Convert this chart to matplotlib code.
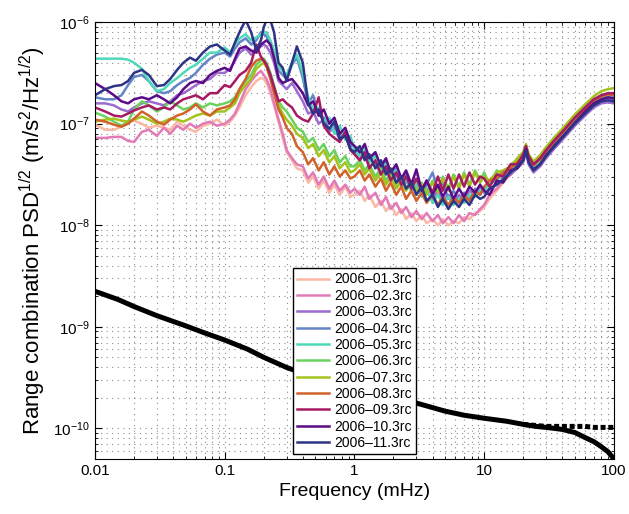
import numpy as np
import matplotlib.pyplot as plt
from matplotlib.ticker import FixedLocator, FixedFormatter, NullFormatter

plt.rcParams['font.family'] = ['Liberation Sans', 'DejaVu Sans']
plt.rcParams['mathtext.fontset'] = 'custom'
plt.rcParams['mathtext.rm'] = 'Liberation Sans'
plt.rcParams['mathtext.it'] = 'Liberation Sans:italic'

# frequency grid of the spectra (mHz)
freq = [0.01, 0.012, 0.014, 0.016, 0.018, 0.02, 0.023, 0.026, 0.03, 0.034, 0.038, 0.043,
        0.048, 0.054, 0.06, 0.068, 0.077, 0.087,
        0.1, 0.11, 0.12, 0.13, 0.145, 0.16, 0.175, 0.19, 0.2, 0.21, 0.225, 0.24, 0.26,
        0.28, 0.3, 0.33, 0.36, 0.4, 0.44, 0.48, 0.53, 0.58, 0.64, 0.7, 0.77, 0.85, 0.93,
        1.0, 1.1, 1.2, 1.3, 1.45, 1.6, 1.75, 1.9, 2.1, 2.3, 2.5, 2.75, 3.0, 3.3, 3.6, 4.0,
        4.4, 4.8, 5.3, 5.8, 6.4, 7.0, 7.7, 8.5, 9.3,
        10, 11, 12.5, 14, 16, 18, 20, 21, 22, 24, 27, 30, 35, 40, 50, 60, 70, 80, 90, 100]

# log10 of the PSD^1/2 (m/s^2/Hz^1/2), one list per release
psd_01 = [-7.01, -7.06, -7.06, -7.03, -6.98, -6.97, -7.00, -7.04, -7.02, -7.04, -7.06, -6.98,
          -7.02, -7.06, -7.08, -7.02, -7.00, -6.96,
          -7.02, -6.98, -6.92, -6.84, -6.72, -6.64, -6.58, -6.55, -6.56, -6.60, -6.70, -6.82, -6.98,
          -7.14, -7.28, -7.36, -7.44, -7.46, -7.58, -7.52, -7.64, -7.56, -7.68, -7.60, -7.70, -7.62, -7.72,
          -7.70, -7.66, -7.76, -7.70, -7.82, -7.76, -7.86, -7.80, -7.90, -7.84, -7.94, -7.88, -7.96, -7.90, -7.98, -7.94,
          -8.00, -7.94, -8.00, -7.96, -7.98, -7.92, -7.94, -7.88, -7.86,
          -7.82, -7.74, -7.66, -7.58, -7.50, -7.44, -7.37, -7.24, -7.37, -7.45, -7.39, -7.31, -7.21, -7.13, -6.99, -6.89, -6.81, -6.78, -6.77, -6.79]
psd_02 = [-7.14, -7.14, -7.13, -7.13, -7.17, -7.18, -7.08, -7.06, -7.12, -7.04, -7.10, -7.02,
          -7.06, -7.00, -7.04, -7.00, -6.98, -7.02,
          -7.00, -6.96, -6.90, -6.80, -6.66, -6.58, -6.52, -6.48, -6.52, -6.56, -6.66, -6.80, -6.96,
          -7.10, -7.26, -7.34, -7.40, -7.42, -7.54, -7.48, -7.60, -7.52, -7.64, -7.56, -7.66, -7.60, -7.68,
          -7.64, -7.70, -7.62, -7.74, -7.68, -7.80, -7.72, -7.84, -7.78, -7.88, -7.82, -7.92, -7.86, -7.94, -7.88, -7.96,
          -7.90, -7.98, -7.92, -7.98, -7.90, -7.96, -7.88, -7.90, -7.84,
          -7.80, -7.70, -7.64, -7.56, -7.50, -7.42, -7.36, -7.24, -7.36, -7.44, -7.38, -7.30, -7.20, -7.12, -6.98, -6.88, -6.80, -6.76, -6.74, -6.74]
psd_03 = [-6.80, -6.80, -6.82, -6.86, -6.88, -6.84, -6.80, -6.78, -6.80, -6.82, -6.78, -6.72,
          -6.70, -6.66, -6.62, -6.58, -6.56, -6.50,
          -6.50, -6.46, -6.38, -6.30, -6.26, -6.32, -6.28, -6.24, -6.22, -6.24, -6.30, -6.40, -6.58,
          -6.62, -6.66, -6.60, -6.68, -6.78, -6.90, -6.88, -7.00, -6.96, -7.08, -7.04, -7.16, -7.12, -7.24,
          -7.30, -7.36, -7.30, -7.42, -7.38, -7.50, -7.44, -7.56, -7.50, -7.62, -7.56, -7.66, -7.60, -7.70, -7.64, -7.74,
          -7.66, -7.76, -7.70, -7.78, -7.70, -7.76, -7.66, -7.70, -7.62,
          -7.68, -7.64, -7.60, -7.54, -7.50, -7.44, -7.38, -7.28, -7.40, -7.48, -7.42, -7.34, -7.24, -7.16, -7.02, -6.92, -6.84, -6.80, -6.79, -6.80]
psd_04 = [-6.74, -6.76, -6.76, -6.72, -6.62, -6.54, -6.52, -6.58, -6.68, -6.70, -6.68, -6.62,
          -6.58, -6.55, -6.50, -6.42, -6.36, -6.32,
          -6.30, -6.34, -6.26, -6.20, -6.16, -6.22, -6.18, -6.10, -6.12, -6.14, -6.22, -6.32, -6.48,
          -6.52, -6.56, -6.42, -6.35, -6.55, -6.80, -6.72, -6.92, -6.94, -7.06, -7.00, -7.14, -7.08, -7.22,
          -7.22, -7.30, -7.26, -7.36, -7.30, -7.44, -7.38, -7.50, -7.44, -7.56, -7.48, -7.62, -7.56, -7.70, -7.60, -7.48,
          -7.66, -7.58, -7.74, -7.66, -7.76, -7.68, -7.74, -7.64, -7.70,
          -7.64, -7.60, -7.54, -7.52, -7.44, -7.42, -7.34, -7.25, -7.36, -7.44, -7.38, -7.30, -7.20, -7.12, -6.98, -6.88, -6.80, -6.77, -6.76, -6.77]
psd_05 = [-6.36, -6.36, -6.36, -6.36, -6.37, -6.40, -6.46, -6.58, -6.68, -6.66, -6.60, -6.55,
          -6.50, -6.45, -6.42, -6.36, -6.30, -6.30,
          -6.25, -6.30, -6.22, -6.16, -6.12, -6.18, -6.15, -6.12, -6.10, -6.10, -6.18, -6.28, -6.44,
          -6.48, -6.52, -6.40, -6.32, -6.50, -6.74, -6.86, -6.84, -6.98, -6.94, -7.10, -7.02, -7.16, -7.12,
          -7.26, -7.32, -7.24, -7.38, -7.32, -7.46, -7.40, -7.52, -7.46, -7.58, -7.54, -7.66, -7.58, -7.72, -7.64, -7.78,
          -7.70, -7.80, -7.72, -7.80, -7.74, -7.78, -7.70, -7.72, -7.66,
          -7.66, -7.58, -7.56, -7.48, -7.46, -7.38, -7.34, -7.24, -7.36, -7.43, -7.37, -7.29, -7.19, -7.11, -6.97, -6.87, -6.79, -6.75, -6.73, -6.73]
psd_06 = [-6.89, -6.93, -6.98, -7.02, -6.98, -6.86, -6.78, -6.82, -6.88, -6.84, -6.78, -6.82,
          -6.86, -6.84, -6.80, -6.84, -6.80, -6.82,
          -6.80, -6.78, -6.74, -6.66, -6.58, -6.52, -6.42, -6.38, -6.36, -6.40, -6.50, -6.62, -6.78,
          -6.84, -6.88, -6.96, -7.04, -7.08, -7.18, -7.14, -7.26, -7.20, -7.32, -7.26, -7.38, -7.32, -7.42,
          -7.42, -7.36, -7.46, -7.40, -7.52, -7.44, -7.56, -7.48, -7.60, -7.52, -7.64, -7.56, -7.66, -7.58, -7.68, -7.56,
          -7.66, -7.52, -7.64, -7.50, -7.62, -7.48, -7.60, -7.46, -7.56,
          -7.48, -7.60, -7.46, -7.52, -7.40, -7.36, -7.30, -7.22, -7.33, -7.40, -7.35, -7.27, -7.17, -7.09, -6.95, -6.85, -6.77, -6.72, -6.70, -6.70]
psd_07 = [-6.98, -6.96, -6.95, -6.97, -6.98, -6.96, -6.93, -6.96, -7.00, -6.98, -6.95, -6.96,
          -6.98, -6.95, -6.92, -6.90, -6.92, -6.88,
          -6.88, -6.84, -6.80, -6.70, -6.62, -6.56, -6.46, -6.42, -6.40, -6.44, -6.54, -6.66, -6.82,
          -6.90, -6.96, -7.02, -7.10, -7.14, -7.24, -7.20, -7.32, -7.26, -7.38, -7.32, -7.44, -7.38, -7.48,
          -7.46, -7.40, -7.50, -7.44, -7.56, -7.48, -7.60, -7.52, -7.64, -7.56, -7.66, -7.58, -7.68, -7.60, -7.70, -7.58,
          -7.68, -7.54, -7.66, -7.52, -7.64, -7.50, -7.62, -7.48, -7.58,
          -7.52, -7.56, -7.48, -7.46, -7.42, -7.34, -7.28, -7.20, -7.30, -7.37, -7.31, -7.23, -7.13, -7.05, -6.91, -6.81, -6.73, -6.68, -6.66, -6.65]
psd_08 = [-6.96, -6.98, -7.01, -7.03, -7.00, -6.95, -6.88, -6.92, -6.98, -7.01, -6.96, -6.92,
          -6.90, -6.86, -6.81, -6.88, -6.92, -6.86,
          -6.84, -6.82, -6.76, -6.66, -6.56, -6.44, -6.38, -6.36, -6.38, -6.44, -6.56, -6.70, -6.86,
          -6.94, -7.04, -7.10, -7.22, -7.28, -7.40, -7.34, -7.46, -7.38, -7.50, -7.42, -7.52, -7.46, -7.54,
          -7.52, -7.46, -7.56, -7.50, -7.62, -7.54, -7.66, -7.58, -7.70, -7.62, -7.74, -7.66, -7.76, -7.68, -7.78, -7.70,
          -7.80, -7.72, -7.80, -7.72, -7.78, -7.70, -7.76, -7.66, -7.70,
          -7.62, -7.56, -7.54, -7.48, -7.44, -7.38, -7.32, -7.23, -7.34, -7.41, -7.35, -7.27, -7.17, -7.09, -6.95, -6.85, -6.77, -6.73, -6.71, -6.72]
psd_09 = [-6.84, -6.88, -6.92, -6.93, -6.90, -6.87, -6.84, -6.82, -6.86, -6.84, -6.86, -6.80,
          -6.76, -6.74, -6.72, -6.76, -6.70, -6.70,
          -6.62, -6.64, -6.58, -6.52, -6.48, -6.40, -6.22, -6.34, -6.38, -6.42, -6.52, -6.64, -6.78,
          -6.76, -6.80, -6.84, -6.92, -6.96, -6.98, -6.90, -6.74, -7.02, -7.10, -7.14, -7.18, -7.08, -7.26,
          -7.30, -7.36, -7.28, -7.44, -7.36, -7.50, -7.42, -7.56, -7.48, -7.60, -7.52, -7.64, -7.54, -7.66, -7.56, -7.68,
          -7.52, -7.66, -7.50, -7.64, -7.50, -7.62, -7.48, -7.60, -7.52,
          -7.54, -7.62, -7.50, -7.52, -7.40, -7.40, -7.30, -7.22, -7.32, -7.40, -7.34, -7.26, -7.16, -7.08, -6.94, -6.84, -6.76, -6.72, -6.70, -6.70]
psd_10 = [-6.60, -6.66, -6.72, -6.78, -6.80, -6.76, -6.74, -6.76, -6.72, -6.76, -6.80, -6.74,
          -6.66, -6.60, -6.58, -6.60, -6.52, -6.48,
          -6.45, -6.48, -6.36, -6.26, -6.24, -6.28, -6.30, -6.22, -6.20, -6.18, -6.22, -6.35, -6.55,
          -6.60, -6.58, -6.56, -6.62, -6.70, -6.82, -6.78, -6.92, -6.86, -7.00, -6.94, -7.10, -7.04, -7.18,
          -7.22, -7.28, -7.20, -7.34, -7.28, -7.42, -7.34, -7.48, -7.40, -7.54, -7.46, -7.60, -7.45, -7.66, -7.56, -7.70,
          -7.60, -7.72, -7.62, -7.74, -7.64, -7.72, -7.62, -7.68, -7.60,
          -7.66, -7.70, -7.56, -7.58, -7.46, -7.44, -7.36, -7.25, -7.38, -7.45, -7.40, -7.31, -7.21, -7.13, -6.99, -6.88, -6.80, -6.76, -6.74, -6.75]
psd_11 = [-6.72, -6.66, -6.63, -6.62, -6.58, -6.50, -6.47, -6.52, -6.63, -6.62, -6.56, -6.47,
          -6.40, -6.35, -6.38, -6.30, -6.24, -6.22,
          -6.28, -6.32, -6.20, -6.10, -5.98, -6.10, -6.28, -6.18, -6.05, -5.98, -5.98, -6.10, -6.40,
          -6.45, -6.58, -6.40, -6.24, -6.40, -6.80, -6.90, -6.86, -7.00, -7.05, -6.98, -7.15, -7.12, -7.25,
          -7.28, -7.22, -7.36, -7.30, -7.44, -7.36, -7.50, -7.44, -7.58, -7.52, -7.64, -7.58, -7.70, -7.62, -7.76, -7.70,
          -7.82, -7.74, -7.84, -7.76, -7.82, -7.74, -7.80, -7.70, -7.74,
          -7.72, -7.64, -7.60, -7.55, -7.48, -7.42, -7.36, -7.26, -7.38, -7.46, -7.40, -7.32, -7.22, -7.14, -7.00, -6.90, -6.82, -6.78, -6.77, -6.78]

labels = ['2006\u201301.3rc', '2006\u201302.3rc', '2006\u201303.3rc', '2006\u201304.3rc',
          '2006\u201305.3rc', '2006\u201306.3rc', '2006\u201307.3rc', '2006\u201308.3rc',
          '2006\u201309.3rc', '2006\u201310.3rc', '2006\u201311.3rc']
colors = ['#fbb8a4', '#e27ab8', '#9b6bd0', '#6484c8', '#4fd9b9', '#6ad25f',
          '#a3c31c', '#d0622a', '#a61a63', '#5c0b86', '#2e3485']
series = [psd_01, psd_02, psd_03, psd_04, psd_05, psd_06, psd_07, psd_08, psd_09, psd_10, psd_11]

# black reference curves (log10)
ref_freq = [0.01, 0.015, 0.02, 0.03, 0.05, 0.07, 0.1, 0.15, 0.2, 0.3, 0.5, 0.7, 1, 1.5, 2, 3, 5, 7,
            10, 15, 20, 25, 30, 35, 40, 50, 60, 70, 80, 90, 100]
ref_solid = [-8.65, -8.73, -8.80, -8.89, -8.99, -9.06, -9.13, -9.22, -9.30, -9.40, -9.50, -9.55,
             -9.60, -9.66, -9.70, -9.75, -9.83, -9.87, -9.90, -9.93, -9.96, -9.98, -9.99, -10.00,
             -10.01, -10.04, -10.09, -10.13, -10.18, -10.23, -10.30]
dash_freq = [20, 30, 40, 50, 60, 70, 80, 90, 100]
ref_dashed = [-9.96, -9.98, -9.98, -9.98, -9.98, -9.99, -9.99, -9.99, -9.99]

yticks = [1e-10, 1e-9, 1e-8, 1e-7, 1e-6]
ytick_labels = ['$10^{-10}$', '$10^{-9}$', '$10^{-8}$', '$10^{-7}$', '$10^{-6}$']

fig = plt.figure(figsize=(6.29, 5.14), dpi=100)
ax = fig.add_axes([0.151, 0.107, 0.825, 0.850])

for vals, col, lab in zip(series, colors, labels):
    ax.loglog(freq, 10 ** np.array(vals), color=col, lw=1.8, label=lab)

ax.loglog(ref_freq, 10 ** np.array(ref_solid), color='black', lw=3.6, solid_capstyle='butt')
ax.loglog(dash_freq, 10 ** np.array(ref_dashed), color='black', lw=3.6, ls=(0, (1.0, 0.55)))

ax.set_xlim(0.01, 100)
ax.set_ylim(5e-11, 1e-6)

xminor = [m * 10.0 ** e for e in range(-2, 2) for m in range(2, 10)]
yminor = [m * 10.0 ** e for e in range(-11, -6) for m in range(2, 10)]
yminor = [v for v in yminor if 5e-11 <= v <= 1e-6]
ax.xaxis.set_major_locator(FixedLocator([0.01, 0.1, 1, 10, 100]))
ax.xaxis.set_major_formatter(FixedFormatter(['0.01', '0.1', '1', '10', '100']))
ax.xaxis.set_minor_locator(FixedLocator(xminor))
ax.xaxis.set_minor_formatter(NullFormatter())
ax.yaxis.set_major_locator(FixedLocator(yticks))
ax.yaxis.set_major_formatter(FixedFormatter(ytick_labels))
ax.yaxis.set_minor_locator(FixedLocator(yminor))
ax.yaxis.set_minor_formatter(NullFormatter())

ax.tick_params(which='both', direction='in', top=True, right=True, labelsize=11)
ax.tick_params(which='major', length=5)
ax.tick_params(which='minor', length=2.5)
ax.grid(True, which='both', ls=(0, (1, 4)), color='#8c8c8c', lw=0.8)

ax.set_xlabel('Frequency (mHz)', fontsize=14)
ax.set_ylabel('Range combination PSD$^{1/2}$ (m/s$^{2}$/Hz$^{1/2}$)', fontsize=16)

leg = ax.legend(loc='lower left', bbox_to_anchor=(0.381, 0.011), fontsize=10,
                frameon=True, fancybox=False, edgecolor='black', framealpha=1,
                handlelength=2.3, labelspacing=0.17, borderpad=0.3, handletextpad=0.4,
                borderaxespad=0)
leg.get_frame().set_linewidth(1.0)

fig.savefig('out.png', dpi=100)
